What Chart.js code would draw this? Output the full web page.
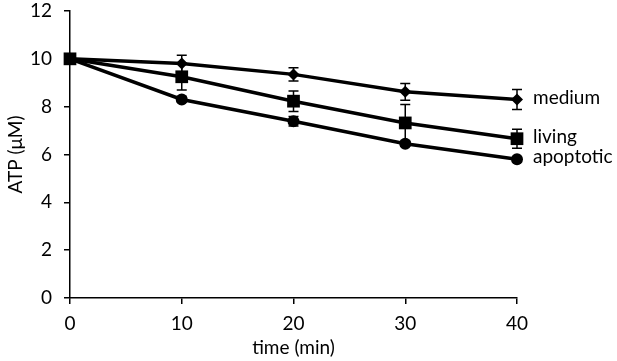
<!DOCTYPE html>
<html>
<head>
<meta charset="utf-8">
<script src="https://cdn.jsdelivr.net/npm/chart.js@4/dist/chart.umd.min.js"></script>
<style>
  body { margin: 0; background: #fff; }
</style>
</head>
<body>
<canvas id="chart" width="617" height="361"></canvas>
<script>
const times = [0, 10, 20, 30, 40];
const seriesNames = ["medium", "living", "apoptotic"];
const mediumVals = [10, 9.8, 9.35, 8.62, 8.3];
const mediumErr = [0, 0.35, 0.28, 0.35, 0.42];
const livingVals = [10, 9.25, 8.23, 7.32, 6.66];
const livingErr = [0, 0.55, 0.43, 0.77, 0.4];
const apoptoticVals = [10, 8.3, 7.39, 6.45, 5.8];
const apoptoticErr = [0, 0.1, 0.2, 0.1, 0.1];
const yTicks = [0, 2, 4, 6, 8, 10, 12];

const FONT = "Lato, 'Open Sans', sans-serif";
const FSIZE = 19;

function points(vals) {
  return times.map((t, i) => ({ x: t, y: vals[i] }));
}

// vertical error bars with caps
const errorBars = {
  id: "errorBars",
  beforeDatasetsDraw(chart) {
    const { ctx, scales } = chart;
    ctx.save();
    ctx.strokeStyle = "#000";
    ctx.lineWidth = 1.5;
    chart.data.datasets.forEach(ds => {
      ds.data.forEach((p, i) => {
        const e = ds.errors[i];
        if (!e) return;
        const x = scales.x.getPixelForValue(p.x);
        const y1 = scales.y.getPixelForValue(p.y + e);
        const y2 = scales.y.getPixelForValue(p.y - e);
        ctx.beginPath();
        ctx.moveTo(x, y1); ctx.lineTo(x, y2);
        ctx.moveTo(x - 5, y1); ctx.lineTo(x + 5, y1);
        ctx.moveTo(x - 5, y2); ctx.lineTo(x + 5, y2);
        ctx.stroke();
      });
    });
    ctx.restore();
  }
};

// series names next to last point
const endLabels = {
  id: "endLabels",
  afterDatasetsDraw(chart) {
    const { ctx } = chart;
    ctx.save();
    ctx.fillStyle = "#000";
    ctx.font = FSIZE + "px " + FONT;
    ctx.textBaseline = "middle";
    chart.data.datasets.forEach((ds, i) => {
      const meta = chart.getDatasetMeta(i);
      const pt = meta.data[meta.data.length - 1];
      ctx.fillText(ds.label, pt.x + 16, pt.y - 2);
    });
    ctx.restore();
  }
};

new Chart(document.getElementById("chart"), {
  type: "line",
  data: {
    datasets: [
      {
        label: seriesNames[0], data: points(mediumVals), errors: mediumErr,
        pointStyle: "rectRot", pointRadius: 6
      },
      {
        label: seriesNames[1], data: points(livingVals), errors: livingErr,
        pointStyle: "rect", pointRadius: 9
      },
      {
        label: seriesNames[2], data: points(apoptoticVals), errors: apoptoticErr,
        pointStyle: "circle", pointRadius: 6
      }
    ].map(d => Object.assign({
      borderColor: "#000", backgroundColor: "#000",
      pointBackgroundColor: "#000", pointBorderColor: "#000",
      borderWidth: 3.5, pointBorderWidth: 0, tension: 0, clip: false
    }, d))
  },
  options: {
    responsive: false,
    animation: false,
    layout: { autoPadding: false, padding: { top: 11, right: 100, left: 0, bottom: 4 } },
    plugins: {
      legend: { display: false },
      tooltip: { enabled: false }
    },
    scales: {
      x: {
        type: "linear", min: 0, max: 40,
        afterBuildTicks: s => { s.ticks = times.map(v => ({ value: v })); },
        afterFit: s => { s.paddingLeft = 0; s.paddingRight = 0; },
        grid: { drawOnChartArea: false, tickLength: 6, color: "#000", lineWidth: 1.5 },
        border: { color: "#000", width: 1.5 },
        ticks: { color: "#000", font: { family: FONT, size: FSIZE, lineHeight: 1 }, padding: 10 },
        title: { display: true, text: "time (min)", color: "#000", font: { family: FONT, size: FSIZE, lineHeight: 1 }, padding: { top: -5, bottom: 0 } }
      },
      y: {
        min: 0, max: 12,
        afterBuildTicks: s => { s.ticks = yTicks.map(v => ({ value: v })); },
        afterFit: s => { s.width = 70; s.paddingTop = 0; s.paddingBottom = 0; },
        grid: { drawOnChartArea: false, tickLength: 6, color: "#000", lineWidth: 1.5 },
        border: { color: "#000", width: 1.5 },
        ticks: { color: "#000", font: { family: FONT, size: FSIZE }, padding: 12 },
        title: { display: true, text: "ATP (μM)", color: "#000", font: { family: FONT, size: FSIZE }, padding: { bottom: 0 } }
      }
    }
  },
  plugins: [errorBars, endLabels]
});
</script>
</body>
</html>
